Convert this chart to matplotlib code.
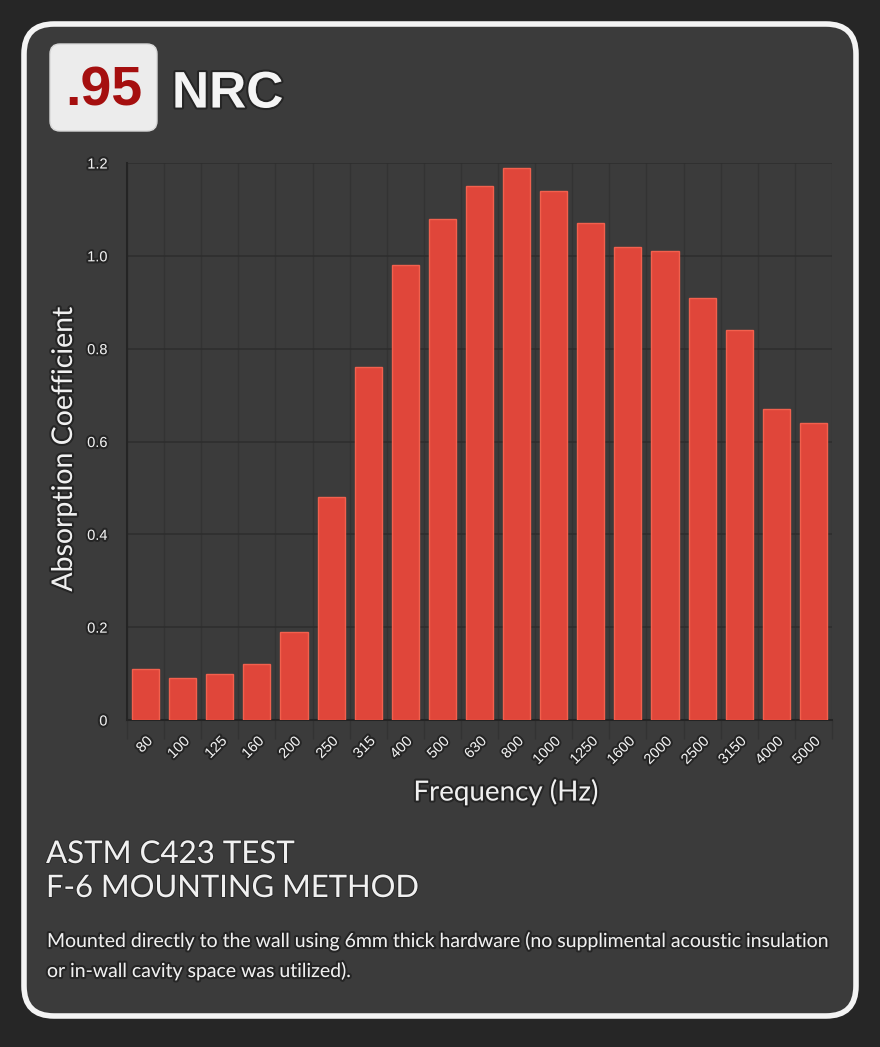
import matplotlib.pyplot as plt
import matplotlib.patheffects as pe
from matplotlib.patches import FancyBboxPatch
import numpy as np

# data
freqs = ['80', '100', '125', '160', '200', '250', '315', '400', '500', '630',
         '800', '1000', '1250', '1600', '2000', '2500', '3150', '4000', '5000']
absorption = [0.11, 0.09, 0.10, 0.12, 0.19, 0.48, 0.76, 0.98, 1.08, 1.15,
              1.19, 1.14, 1.07, 1.02, 1.01, 0.91, 0.84, 0.67, 0.64]
y_ticks = [0, 0.2, 0.4, 0.6, 0.8, 1.0, 1.2]
y_tick_labels = ['0', '0.2', '0.4', '0.6', '0.8', '1.0', '1.2']
nrc = '.95'
title_lines = ['ASTM C423 TEST', 'F-6 MOUNTING METHOD']
note_lines = ['Mounted directly to the wall using 6mm thick hardware (no supplimental acoustic insulation',
              'or in-wall cavity space was utilized).']

W, H = 880, 1047
fig = plt.figure(figsize=(W / 100, H / 100), dpi=100)
fig.patch.set_facecolor('#262626')

shadow = [pe.withStroke(linewidth=3, foreground='#1c1c1c', alpha=0.7)]
thin_shadow = [pe.withStroke(linewidth=1.5, foreground='#1c1c1c', alpha=0.5)]

# background layer in pixel coords
bg = fig.add_axes([0, 0, 1, 1])
bg.set_xlim(0, W)
bg.set_ylim(H, 0)
bg.axis('off')

card = FancyBboxPatch((24, 24), 832, 992, boxstyle='round,pad=0,rounding_size=30',
                      facecolor='#3b3b3b', edgecolor='#f4f4f4', linewidth=4)
bg.add_patch(card)

badge = FancyBboxPatch((50, 44), 107, 87, boxstyle='round,pad=0,rounding_size=10',
                       facecolor='#ececec', edgecolor='#d8d8d8', linewidth=1)
bg.add_patch(badge)
bg.text(103.5, 91, nrc, ha='center', va='center', fontsize=40, fontweight='bold',
        color='#a50f0f', family='Liberation Sans')
bg.text(172, 94, 'NRC', ha='left', va='center', fontsize=37, fontweight='bold',
        color='#f4f4f4', family='Liberation Sans', path_effects=shadow)

bg.text(46, 854, title_lines[0], ha='left', va='center', fontsize=22.5,
        color='#f0f0f0', family='Lato', path_effects=thin_shadow)
bg.text(46, 888, title_lines[1], ha='left', va='center', fontsize=22.3,
        color='#f0f0f0', family='Lato', path_effects=thin_shadow)
bg.text(47, 941, note_lines[0], ha='left', va='center', fontsize=14,
        color='#f0f0f0', family='Lato', path_effects=shadow)
bg.text(47, 971, note_lines[1], ha='left', va='center', fontsize=14,
        color='#f0f0f0', family='Lato', path_effects=shadow)

# chart
ax = fig.add_axes([127 / W, 1 - 720 / H, (832 - 127) / W, (720 - 163) / H])
ax.patch.set_alpha(0)
x = np.arange(len(freqs))
ax.bar(x, absorption, width=0.73, color='#e0463a', edgecolor='#f2604e',
       linewidth=1, zorder=3)
ax.set_xlim(-0.5, len(freqs) - 0.5)
ax.set_ylim(0, 1.2)

ax.set_yticks(y_ticks)
ax.set_yticklabels(y_tick_labels)
ax.set_xticks(x)
ax.set_xticklabels(freqs, rotation=45, ha='right', rotation_mode='anchor')
ax.set_xticks(np.arange(len(freqs) + 1) - 0.5, minor=True)

ax.tick_params(axis='y', length=0, pad=14, labelsize=10.5, labelcolor='#f0f0f0')
ax.tick_params(axis='x', which='major', length=0, pad=10, labelsize=10.5, labelcolor='#f0f0f0')
ax.tick_params(axis='x', which='minor', length=14, width=1, color='#333333')
for lab in ax.get_xticklabels() + ax.get_yticklabels():
    lab.set_family('Liberation Sans')
    lab.set_path_effects(shadow)

ax.grid(axis='y', color='#2e2e2e', linewidth=1.2, zorder=0)
ax.grid(axis='x', which='minor', color='#333333', linewidth=1, zorder=0)
for s in ['top', 'right']:
    ax.spines[s].set_visible(False)
ax.spines['left'].set_color('#242424')
ax.spines['bottom'].set_color('#242424')
ax.spines['left'].set_linewidth(1.5)
ax.spines['bottom'].set_linewidth(1.5)

ax.set_ylabel('Absorption Coefficient', fontsize=20.5, color='#f0f0f0', family='Lato',
              path_effects=shadow)
ax.set_xlabel('Frequency (Hz)', fontsize=20, color='#f0f0f0', family='Lato',
              path_effects=shadow)
ax.yaxis.set_label_coords(-0.071, 0.487)
ax.xaxis.set_label_coords(0.5376, -0.104)

fig.savefig('out.png', dpi=100, facecolor=fig.get_facecolor())
